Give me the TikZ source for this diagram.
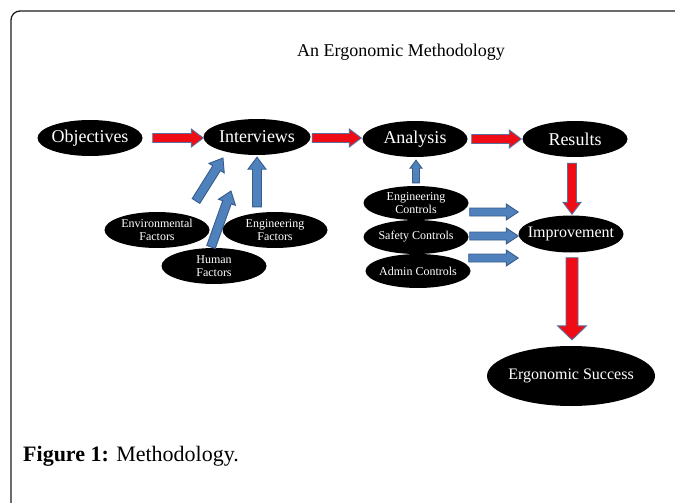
\documentclass[tikz,border=0pt]{standalone}
\usepackage{fontspec}
\setmainfont{Liberation Serif}
\usetikzlibrary{shapes.geometric,calc}
\definecolor{redfill}{RGB}{240,12,20}
\definecolor{redline}{RGB}{86,112,160}
\definecolor{bluefill}{RGB}{79,129,189}
\definecolor{blueline}{RGB}{56,93,138}
\definecolor{framecol}{RGB}{30,30,30}
\tikzset{
  oval/.style={ellipse, fill=black, text=white, inner xsep=-8pt, inner ysep=-2pt,
    minimum width=105pt, minimum height=35pt, align=center},
  bigtxt/.style={font=\fontsize{18}{18}\selectfont},
  midtxt/.style={font=\fontsize{16}{16}\selectfont},
  smalltxt/.style={font=\fontsize{12}{12.5}\selectfont},
  blockarrow/.style n args={3}{to path={
    ($(\tikztostart)!#1!90:(\tikztotarget)$) --
    ($(\tikztotarget)!#3!(\tikztostart)!#1!-90:(\tikztostart)$) --
    ($(\tikztotarget)!#3!(\tikztostart)!#2!-90:(\tikztostart)$) --
    (\tikztotarget) --
    ($(\tikztotarget)!#3!(\tikztostart)!#2!90:(\tikztostart)$) --
    ($(\tikztotarget)!#3!(\tikztostart)!#1!90:(\tikztostart)$) --
    ($(\tikztostart)!#1!-90:(\tikztotarget)$) -- cycle}},
  redarrow/.style={fill=redfill, draw=redline, line width=0.9pt, line join=miter,
    blockarrow={4.5pt}{9pt}{12pt}},
  bigredarrow/.style={fill=redfill, draw=redline, line width=0.9pt, line join=miter,
    blockarrow={6pt}{14.5pt}{14pt}},
  bluearrow/.style={fill=bluefill, draw=blueline, line width=0.9pt, line join=miter,
    blockarrow={4.5pt}{9pt}{12pt}},
  bluehoriz/.style={fill=bluefill, draw=blueline, line width=0.9pt, line join=miter,
    blockarrow={4pt}{8pt}{12pt}},
  bluesmall/.style={fill=bluefill, draw=blueline, line width=0.9pt, line join=miter,
    blockarrow={3.5pt}{6pt}{8pt}},
}
\begin{document}
\begin{tikzpicture}[x=1pt,y=-1pt]
\useasboundingbox (0,0) rectangle (675,503);
\fill[white] (0,0) rectangle (675,503);
\draw[line width=1.3pt, framecol, rounded corners=9pt] (11,530) -- (11,11) -- (700,11);

\node[anchor=base west, inner sep=0pt, font=\fontsize{18}{18}\selectfont] (title) at (297,57) {An Ergonomic Methodology};

% main row
\node[oval, bigtxt, minimum height=36pt] (obj) at (90,138) {Objectives};
\node[oval, bigtxt, minimum height=36pt, minimum width=107pt] (int) at (257,137) {Interviews};
\node[oval, bigtxt, minimum height=36pt] (ana) at (415,139) {Analysis};
\node[oval, bigtxt, minimum height=36pt] (res) at (575,139) {Results};
\node[oval, midtxt, minimum height=37pt] (imp) at (571,234) {Improvement};
\node[oval, midtxt, minimum width=168pt, minimum height=60pt] (succ) at (571,376) {Ergonomic Success};

% factors
\node[oval, smalltxt, minimum height=36pt] (envf) at (157,230) {Environmental\\Factors};
\node[oval, smalltxt, minimum height=36pt] (engf) at (275,230) {Engineering\\Factors};
\node[oval, smalltxt, minimum height=36pt] (humf) at (214,266) {Human\\Factors};

% controls
\node[oval, smalltxt, minimum height=34pt] (engc) at (416,203) {Engineering\\Controls};
\node[oval, smalltxt, minimum height=34pt] (safc) at (416,237) {Safety Controls};
\node[oval, smalltxt, minimum height=34pt] (admc) at (418,271) {Admin Controls};

% arrow end points
\coordinate (r1s) at ($(obj.east)+(10,0)$);
\coordinate (r1e) at ($(int.west)+(0,1)$);
\coordinate (r2s) at ($(int.east)+(1.5,1)$);
\coordinate (r2e) at ($(ana.west)+(-1,-1)$);
\coordinate (r3s) at ($(ana.east)+(4,0)$);
\coordinate (r3e) at ($(res.west)+(-1,0)$);
\coordinate (r4s) at ($(res.south)+(-3,6)$);
\coordinate (r4e) at ($(imp.north)+(1,-1)$);
\coordinate (r5s) at ($(imp.south)+(1,5)$);
\coordinate (r5e) at ($(succ.north)+(1,-6)$);

\coordinate (b1s) at (196,201);
\coordinate (b1e) at (223,158);
\coordinate (b2s) at (211,247);
\coordinate (b2e) at (231,191);
\coordinate (b3s) at ($(engf.north)+(-18,-5)$);
\coordinate (b3e) at ($(int.south)+(0,2)$);
\coordinate (b4s) at ($(engc.north)+(0,-3)$);
\coordinate (b4e) at ($(ana.south)+(1,3)$);
\coordinate (b5s) at ($(engc.east)+(1,9)$);
\coordinate (b5e) at ($(imp.west)+(0,-22)$);
\coordinate (b6s) at ($(safc.east)+(1,-1)$);
\coordinate (b6e) at ($(imp.west)+(0,2)$);
\coordinate (b7s) at ($(admc.east)+(-2,-13)$);
\coordinate (b7e) at ($(imp.west)+(0,24)$);

\draw[redarrow] (r1s) to (r1e);
\draw[redarrow] (r2s) to (r2e);
\draw[redarrow] (r3s) to (r3e);
\draw[redarrow] (r4s) to (r4e);
\draw[bigredarrow] (r5s) to (r5e);

\draw[bluearrow] (b1s) to (b1e);
\draw[bluearrow] (b2s) to (b2e);
\draw[bluearrow] (b3s) to (b3e);
\draw[bluesmall] (b4s) to (b4e);
\draw[bluehoriz] (b5s) to (b5e);
\draw[bluehoriz] (b6s) to (b6e);
\draw[bluehoriz] (b7s) to (b7e);

\node[anchor=base west, inner sep=0pt, font=\fontsize{22}{22}\selectfont] (cap) at (23,461) {\textbf{Figure 1:} Methodology.};
\end{tikzpicture}
\end{document}
